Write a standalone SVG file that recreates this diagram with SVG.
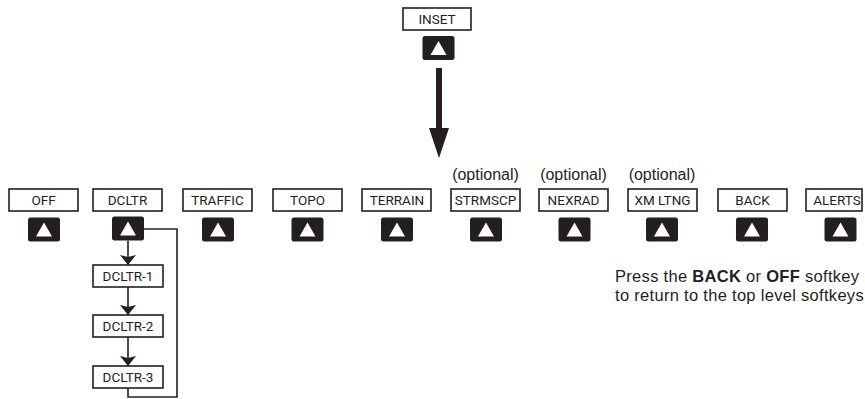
<svg xmlns="http://www.w3.org/2000/svg" width="865" height="399" viewBox="0 0 865 399">
<style>
.box{fill:#fff;stroke:#231f20;stroke-width:1.6}
.lbl{font-family:Roboto,"Liberation Sans",sans-serif;font-size:13.5px;fill:#231f20;text-anchor:middle}
.opt{font-family:"Liberation Sans",Arial,sans-serif;font-size:16px;fill:#231f20;text-anchor:middle}
.note{font-family:"Liberation Sans",Arial,sans-serif;font-size:16.5px;fill:#231f20}
.ln{fill:none;stroke:#231f20;stroke-width:1.6}
</style>
<defs>
<g id="btn">
<rect x="-16" y="0" width="32" height="24" rx="2.5" fill="#231f20"/>
<polygon points="0,5 -8,19 8,19" fill="#fff"/>
</g>
<marker id="ah" viewBox="0 0 10 16" refX="10" refY="8" markerWidth="10" markerHeight="16" markerUnits="userSpaceOnUse" orient="auto">
<path d="M0,0 L10,8 L0,16 L2,8 Z" fill="#231f20"/>
</marker>
</defs>

<g id="inset">
<rect class="box" x="403" y="8" width="68" height="22"/>
<text class="lbl" x="437" y="24">INSET</text>
<use href="#btn" x="438.5" y="36"/>
</g>

<g id="off">
<rect class="box" x="9" y="189" width="69" height="22"/>
<text class="lbl" x="43.5" y="205">OFF</text>
<use href="#btn" x="44" y="217.5"/>
</g>
<g id="dcltr">
<rect class="box" x="93" y="189" width="69" height="22"/>
<text class="lbl" x="127.5" y="205">DCLTR</text>
<use href="#btn" x="128" y="216.5"/>
</g>
<g id="traffic">
<rect class="box" x="183" y="189" width="69" height="22"/>
<text class="lbl" x="217.5" y="205">TRAFFIC</text>
<use href="#btn" x="218" y="217.5"/>
</g>
<g id="topo">
<rect class="box" x="273" y="189" width="69" height="22"/>
<text class="lbl" x="307.5" y="205">TOPO</text>
<use href="#btn" x="307.5" y="217.5"/>
</g>
<g id="terrain">
<rect class="box" x="362" y="189" width="69" height="22"/>
<text class="lbl" x="397" y="205">TERRAIN</text>
<use href="#btn" x="397" y="217.5"/>
</g>
<g id="strmscp">
<text class="opt" x="485.5" y="180">(optional)</text>
<rect class="box" x="451" y="189" width="69" height="22"/>
<text class="lbl" x="485.5" y="205">STRMSCP</text>
<use href="#btn" x="486" y="217.5"/>
</g>
<g id="nexrad">
<text class="opt" x="573.5" y="180">(optional)</text>
<rect class="box" x="539" y="189" width="69" height="22"/>
<text class="lbl" x="573.5" y="205">NEXRAD</text>
<use href="#btn" x="574.5" y="217.5"/>
</g>
<g id="xmltng">
<text class="opt" x="662" y="180">(optional)</text>
<rect class="box" x="628" y="189" width="69" height="22"/>
<text class="lbl" x="662.5" y="205">XM LTNG</text>
<use href="#btn" x="662" y="217.5"/>
</g>
<g id="back">
<rect class="box" x="718" y="189" width="69" height="22"/>
<text class="lbl" x="752.5" y="205">BACK</text>
<use href="#btn" x="752" y="217.5"/>
</g>
<g id="alerts">
<rect class="box" x="806" y="189" width="56" height="22"/>
<text class="lbl" x="837" y="205">ALERTS</text>
<use href="#btn" x="840.5" y="217.5"/>
</g>

<g id="dcltr1">
<rect class="box" x="93" y="265" width="70" height="22"/>
<text class="lbl" x="128" y="281">DCLTR-1</text>
</g>
<g id="dcltr2">
<rect class="box" x="93" y="315" width="70" height="22"/>
<text class="lbl" x="128" y="331">DCLTR-2</text>
</g>
<g id="dcltr3">
<rect class="box" x="93" y="366" width="70" height="22"/>
<text class="lbl" x="128" y="382">DCLTR-3</text>
</g>

<g id="note">
<text class="note" x="615" y="282" letter-spacing="0.3">Press the <tspan font-weight="bold">BACK</tspan> or <tspan font-weight="bold">OFF</tspan> softkey</text>
<text class="note" x="615" y="301" letter-spacing="0.3">to return to the top level softkeys</text>
</g>

<g id="connectors">
<path d="M436,68 H442 V128 H449 L439,158 L429,128 H436 Z" fill="#231f20"/>
<line class="ln" x1="128" y1="240.5" x2="128" y2="265" marker-end="url(#ah)"/>
<line class="ln" x1="128" y1="287" x2="128" y2="315" marker-end="url(#ah)"/>
<line class="ln" x1="128" y1="337" x2="128" y2="366" marker-end="url(#ah)"/>
<path class="ln" d="M144,229 H177 V397 H128 V388"/>
</g>
</svg>
